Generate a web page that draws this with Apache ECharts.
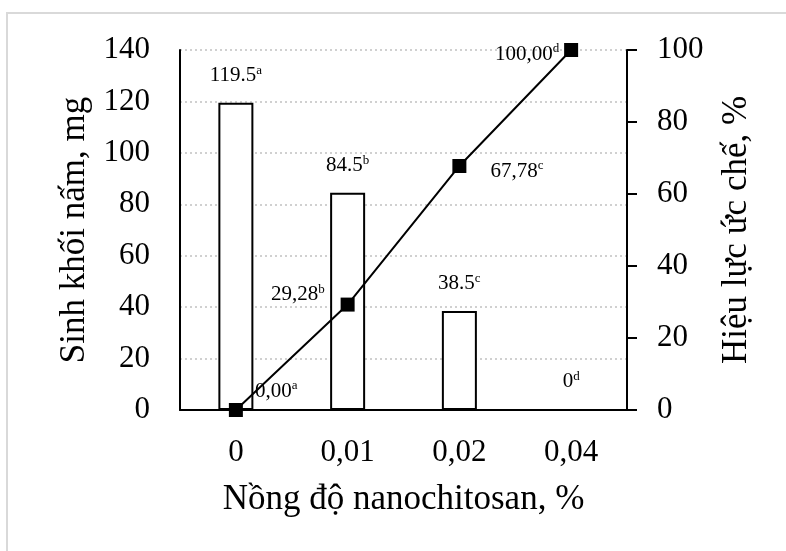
<!DOCTYPE html>
<html>
<head>
    <meta charset="utf-8">
    <script src="https://cdn.jsdelivr.net/npm/echarts@6/dist/echarts.min.js"></script>
    <style>
        html, body { margin: 0; padding: 0; background: #fff; }
    </style>
</head>
<body>
    <div id="main" style="width: 786px;height:551px"></div>
    <script type="text/javascript">
        // data
        var categories = ['0', '0,01', '0,02', '0,04'];
        var biomass = [119.5, 84.5, 38.5, 0];
        var biomassText = ['119.5', '84.5', '38.5', '0'];
        var biomassSup = ['a', 'b', 'c', 'd'];
        var inhibition = [0, 29.28, 67.78, 100];
        var inhibitionText = ['0,00', '29,28', '67,78', '100,00'];
        var inhibitionSup = ['a', 'b', 'c', 'd'];

        var FONT = '"Liberation Serif", "Times New Roman", serif';

        var rich = {
            n: { fontSize: 21, lineHeight: 23, color: '#000', fontFamily: FONT },
            s: { fontSize: 13, lineHeight: 14, verticalAlign: 'top', color: '#000', fontFamily: FONT }
        };

        // label placement for the line points
        var linePos = [
            { position: 'right', offset: [7, -19] },
            { position: 'left', offset: [-11, -10] },
            { position: 'right', offset: [19, 5] },
            { position: 'left', offset: [0, 4] }
        ];

        var barData = biomass.map(function (v, i) {
            return {
                value: v,
                label: { formatter: '{n|' + biomassText[i] + '}{s|' + biomassSup[i] + '}' }
            };
        });
        var lineData = inhibition.map(function (v, i) {
            return {
                value: v,
                label: {
                    position: linePos[i].position,
                    offset: linePos[i].offset,
                    formatter: '{n|' + inhibitionText[i] + '}{s|' + inhibitionSup[i] + '}'
                }
            };
        });

        var myChart = echarts.init(document.getElementById('main'));

        var option = {
            backgroundColor: '#fff',
            animation: false,
            textStyle: { fontFamily: FONT, color: '#000' },
            graphic: [{
                type: 'rect',
                shape: { x: 7, y: 13, width: 820, height: 580 },
                style: { fill: 'none', stroke: '#d9d9d9', lineWidth: 2 },
                z: -1
            }],
            grid: { left: 180, right: 159, top: 50, bottom: 141 },
            xAxis: {
                type: 'category',
                data: categories,
                name: 'Nồng độ nanochitosan, %',
                nameLocation: 'middle',
                nameGap: 72,
                nameTextStyle: { fontSize: 35, color: '#000', fontFamily: FONT },
                axisLine: { lineStyle: { color: '#000', width: 2 } },
                axisTick: { show: false },
                axisLabel: { fontSize: 31, color: '#000', margin: 27, fontFamily: FONT }
            },
            yAxis: [{
                type: 'value',
                min: 0,
                max: 140,
                interval: 20,
                name: 'Sinh khối nấm, mg',
                nameLocation: 'middle',
                nameGap: 86,
                nameTextStyle: { fontSize: 35, color: '#000', fontFamily: FONT },
                axisLine: { show: true, lineStyle: { color: '#000', width: 2 } },
                axisTick: { show: false },
                axisLabel: { fontSize: 31, color: '#000', margin: 30, fontFamily: FONT },
                splitLine: { lineStyle: { color: '#d0d0d0', width: 2, type: [2, 3] } }
            }, {
                type: 'value',
                position: 'right',
                min: 0,
                max: 100,
                interval: 20,
                name: 'Hiệu lực ức chế, %',
                nameLocation: 'middle',
                nameRotate: 90,
                nameGap: 92,
                nameTextStyle: { fontSize: 35, color: '#000', fontFamily: FONT },
                axisLine: { show: true, lineStyle: { color: '#000', width: 2 } },
                axisTick: { show: true, inside: false, length: 10, lineStyle: { color: '#000', width: 2 } },
                axisLabel: { fontSize: 31, color: '#000', margin: 30, fontFamily: FONT },
                splitLine: { show: false }
            }],
            series: [{
                name: 'Sinh khối nấm',
                type: 'bar',
                yAxisIndex: 0,
                barWidth: 35,
                itemStyle: { color: '#fff', borderColor: '#000', borderWidth: 2 },
                label: { show: true, position: 'top', distance: 16, rich: rich },
                data: barData
            }, {
                name: 'Hiệu lực ức chế',
                type: 'line',
                yAxisIndex: 1,
                symbol: 'rect',
                symbolSize: 14,
                lineStyle: { color: '#000', width: 2 },
                itemStyle: { color: '#000' },
                label: { show: true, distance: 5, rich: rich },
                data: lineData,
                z: 3
            }]
        };

        myChart.setOption(option);
    </script>
</body>
</html>
